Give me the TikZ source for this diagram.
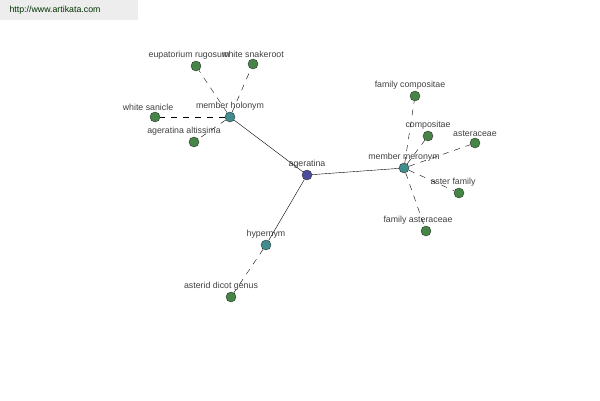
\documentclass[tikz,border=0pt]{standalone}
\usepackage{fontspec}
\setmainfont{Liberation Sans}
\usetikzlibrary{positioning}

\begin{document}
\begin{tikzpicture}
[
    x=1pt, y=-1pt,
    every label/.style={text=black!75, font=\fontsize{8.8}{10}\selectfont, inner sep=1pt, label distance=0pt},
    dot/.style={
        draw=black!80,
        circle,
        inner sep=0pt,
        minimum size=10pt,
        thin,
    },
    hub/.style={dot, fill=blue!45!black!70},
    rel/.style={dot, fill=teal!70!white!85!black},
    leaf/.style={dot, fill=green!40!black!70!white!90!black},
    solidedge/.style={draw=black, thin},
    dashedge/.style={draw=black, thin, dash pattern=on 6pt off 6pt}
]

% Frame and watermark
\useasboundingbox (0,0) rectangle (600,400);
\fill[black!7] (0,0) rectangle (138,20);
\node[anchor=west, text=black!80!green, font=\fontsize{8.8}{10}\selectfont] (site) at (6,10) {http://www.artikata.com};

% Define the nodes
\node[hub, label=above:ageratina] (ageratina) at (307,175) {};
\node[rel, label=above:member holonym] (holonym) at (230,117) {};
\node[rel, label=above:hypernym] (hypernym) at (266,245) {};
\node[rel, label=above:member meronym] (meronym) at (404,168) {};

\node[leaf, label={[xshift=-7pt]above:eupatorium rugosum}] (rugosum) at (196,66) {};
\node[leaf, label=above:white snakeroot] (snakeroot) at (253,64) {};
\node[leaf, label={[xshift=-7pt]above:white sanicle}] (sanicle) at (155,117) {};
\node[leaf, label={[xshift=-10pt]above:ageratina altissima}] (altissima) at (194,142) {};

\node[leaf, label={[xshift=-5pt]above:family compositae}] (famcompositae) at (415,96) {};
\node[leaf, label=above:compositae] (compositae) at (428,136) {};
\node[leaf, label=above:asteraceae] (asteraceae) at (475,143) {};
\node[leaf, label={[xshift=-6pt]above:aster family}] (asterfamily) at (459,193) {};
\node[leaf, label={[xshift=-8pt]above:family asteraceae}] (famasteraceae) at (426,231) {};

\node[leaf, label={[xshift=-10pt]above:asterid dicot genus}] (asterid) at (231,297) {};

% Solid edges from the hub
\draw[solidedge] (ageratina) -- (holonym);
\draw[solidedge] (ageratina) -- (hypernym);
\draw[solidedge] (ageratina) -- (meronym);

% Dashed edges to the leaves
\foreach \leafname in {rugosum, snakeroot, sanicle, altissima}
    \draw[dashedge] (holonym) -- (\leafname);
\foreach \leafname in {famcompositae, compositae, asteraceae, asterfamily, famasteraceae}
    \draw[dashedge] (meronym) -- (\leafname);
\draw[dashedge] (hypernym) -- (asterid);

\end{tikzpicture}
\end{document}
